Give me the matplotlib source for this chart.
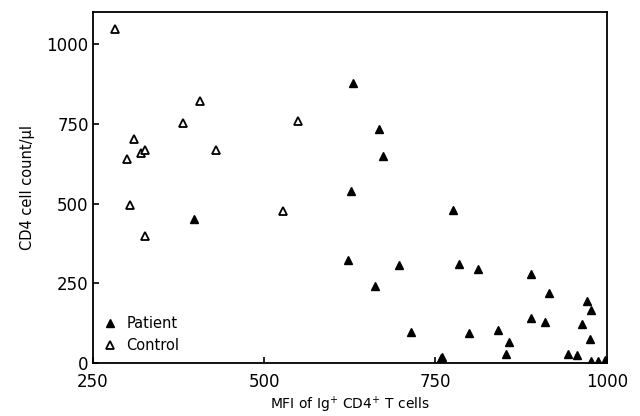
import matplotlib.pyplot as plt

# Patient (filled triangles)
patient_mfi = [627, 630, 667, 674, 623, 662, 697, 714, 758, 760, 775, 785, 799,
               812, 842, 853, 857, 890, 890, 910, 916, 944, 956, 964, 971, 976,
               977, 977, 988, 998, 397]
patient_cd4 = [538, 879, 735, 650, 322, 241, 308, 98, 15, 20, 480, 311, 93,
               296, 103, 28, 67, 280, 143, 129, 221, 30, 25, 124, 195, 75,
               168, 7, 7, 11, 452]

# Control (open triangles)
control_mfi = [282, 300, 304, 310, 320, 326, 326, 382, 406, 430, 527, 550]
control_cd4 = [1046, 640, 494, 702, 660, 668, 397, 752, 822, 669, 476, 759]

plt.rcParams['font.family'] = ['DejaVu Sans']

fig = plt.figure(figsize=(6.4, 4.16), dpi=100)
ax = fig.add_axes([0.145, 0.127, 0.803, 0.844])

ax.plot(patient_mfi, patient_cd4, linestyle='none', marker='^', markersize=6,
        color='black', label='Patient')
ax.plot(control_mfi, control_cd4, linestyle='none', marker='^', markersize=6,
        markerfacecolor='white', markeredgecolor='black', markeredgewidth=1.3,
        label='Control')

ax.set_xlim(250, 1000)
ax.set_ylim(0, 1100)
ax.set_xticks([250, 500, 750, 1000])
ax.set_yticks([0, 250, 500, 750, 1000])
ax.tick_params(axis='both', labelsize=12, length=4, width=1.2, direction='in')
ax.tick_params(axis='x', pad=7)
ax.tick_params(axis='y', pad=3)
for s in ax.spines.values():
    s.set_linewidth(1.3)

ax.set_xlabel('MFI of Ig$^{+}$ CD4$^{+}$ T cells', fontsize=10, labelpad=3)
ax.set_ylabel('CD4 cell count/\u03bcl', fontsize=10.5, labelpad=8)

ax.legend(loc='lower left', frameon=False, fontsize=10.5, handletextpad=0.6,
          borderaxespad=0.3, handlelength=1.0, labelspacing=0.5)

fig.savefig('out.png', dpi=100)
